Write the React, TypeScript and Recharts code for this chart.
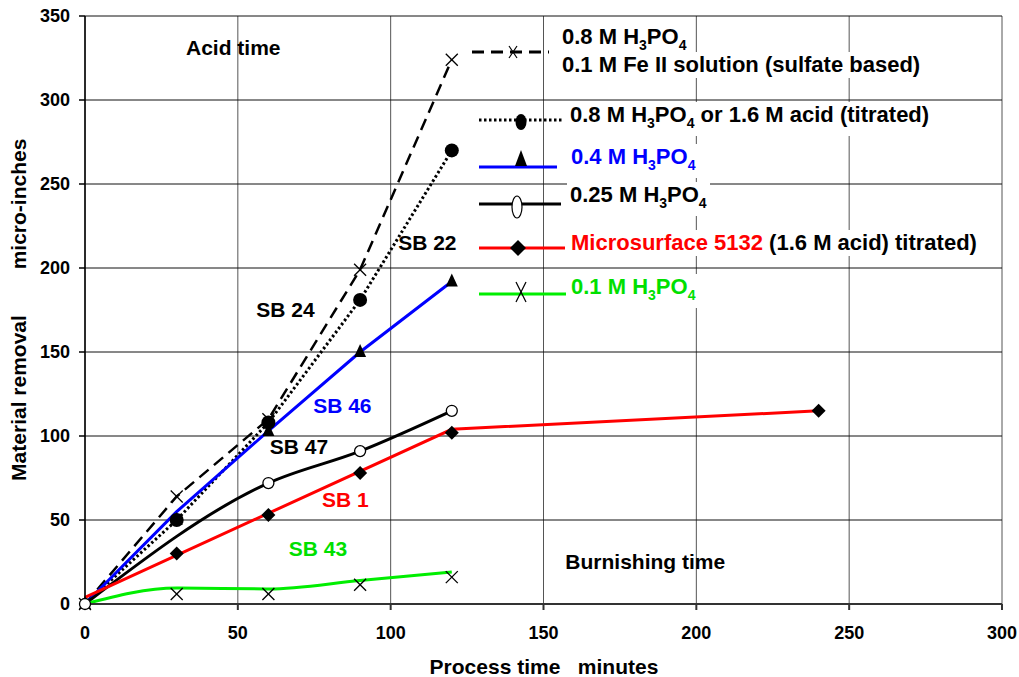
import React from "react";
import {
  ComposedChart,
  Line,
  Scatter,
  XAxis,
  YAxis,
  CartesianGrid,
  ReferenceDot,
} from "recharts";

const FONT = '"Liberation Sans", Arial, Helvetica, sans-serif';

// process time, minutes
const minutes = [0, 30, 60, 90, 120];
const xTicks = [0, 50, 100, 150, 200, 250, 300];
const yTicks = [0, 50, 100, 150, 200, 250, 300, 350];

// 0.8 M H3PO4 + 0.1 M Fe II (dashed, x markers)
const feSolution = [0, 64, 110, 199, 324];
// 0.8 M H3PO4 or 1.6 M acid titrated (dotted, filled circles)
const acid08 = [0, 50, 108, 181, 270];
// 0.4 M H3PO4 (blue, triangles)
const acid04Line = [0, 55, 103, 150, 192];
const acid04Marks = [0, 50, 103, 150, 192];
// 0.25 M H3PO4 (black, open circles)
const acid025Minutes = [0, 60, 90, 120];
const acid025 = [0, 72, 91, 115];
// Microsurface 5132 (red line, black diamonds)
const microLineMinutes = [0, 120, 240];
const microLine = [4, 104, 115];
const microMarkMinutes = [30, 60, 90, 120, 240];
const microMarks = [30, 53, 78, 102, 115];
// 0.1 M H3PO4 (green line, x markers)
const acid01Line = [0, 9.5, 9, 14, 19];
const acid01MarkMinutes = [30, 60, 90, 120];
const acid01Marks = [6, 6, 11.5, 16];

const zip = (xs: number[], ys: number[]) => xs.map((x, i) => ({ x, y: ys[i] }));

const crossShape = (p: any) => (
  <g stroke="#000" strokeWidth={1.3}>
    <line x1={p.cx - 6} y1={p.cy - 6} x2={p.cx + 6} y2={p.cy + 6} />
    <line x1={p.cx - 6} y1={p.cy + 6} x2={p.cx + 6} y2={p.cy - 6} />
  </g>
);
const dotShape = (p: any) => <circle cx={p.cx} cy={p.cy} r={7} fill="#000" />;
const triShape = (p: any) => (
  <polygon
    points={`${p.cx},${p.cy - 8} ${p.cx - 6},${p.cy + 5} ${p.cx + 6},${p.cy + 5}`}
    fill="#000"
  />
);
const ringShape = (p: any) => (
  <circle cx={p.cx} cy={p.cy} r={5.5} fill="#fff" stroke="#000" strokeWidth={1.3} />
);
const diamondShape = (p: any) => (
  <polygon
    points={`${p.cx},${p.cy - 7} ${p.cx + 7},${p.cy} ${p.cx},${p.cy + 7} ${p.cx - 7},${p.cy}`}
    fill="#000"
  />
);

const textStyle = { fontFamily: FONT, fontWeight: 700, fontSize: 21 };

const note = (value: string, fill = "#000") => ({
  value,
  position: "center" as const,
  fill,
  style: textStyle,
});

const Sub = ({ children }: { children: React.ReactNode }) => (
  <span style={{ fontSize: 14, verticalAlign: -6 }}>{children}</span>
);
const H3PO4 = () => (
  <>
    H<Sub>3</Sub>PO<Sub>4</Sub>
  </>
);

const legendRow = (top: number, left: number, content: React.ReactNode, color = "#000") => (
  <div
    style={{
      position: "absolute",
      top: top - 13,
      left,
      fontFamily: FONT,
      fontWeight: 700,
      fontSize: 22,
      lineHeight: "26px",
      color,
      background: "#fff",
      padding: "0 3px",
      whiteSpace: "pre",
    }}
  >
    {content}
  </div>
);

export default function App() {
  return (
    <div
      style={{
        position: "absolute",
        left: 0,
        top: 0,
        width: 1019,
        height: 677,
        background: "#fff",
      }}
    >
      <ComposedChart
        width={1019}
        height={677}
        margin={{ top: 16, right: 17, bottom: 33, left: 25 }}
      >
        <CartesianGrid horizontal={false} stroke="#555" strokeWidth={1} />
        <CartesianGrid vertical={false} stroke="#111" strokeWidth={1} />
        <XAxis
          type="number"
          dataKey="x"
          domain={[0, 300]}
          ticks={xTicks}
          height={40}
          tickSize={6}
          tickMargin={16}
          stroke="#333"
          strokeWidth={2}
          tick={{ fill: "#000", fontFamily: FONT, fontWeight: 700, fontSize: 18 }}
        />
        <YAxis
          type="number"
          dataKey="y"
          domain={[0, 350]}
          ticks={yTicks}
          width={60}
          tickSize={6}
          tickMargin={9}
          stroke="#000"
          strokeWidth={1.5}
          tick={{ fill: "#000", fontFamily: FONT, fontWeight: 700, fontSize: 18 }}
        />

        <Line
          data={zip(minutes, feSolution)}
          dataKey="y"
          stroke="#000"
          strokeWidth={2.5}
          strokeDasharray="12 7"
          dot={false}
          isAnimationActive={false}
        />
        <Line
          data={zip(minutes, acid08)}
          dataKey="y"
          stroke="#000"
          strokeWidth={3}
          strokeDasharray="2.5 2.5"
          dot={false}
          isAnimationActive={false}
        />
        <Line
          data={zip(minutes, acid04Line)}
          dataKey="y"
          stroke="#0000ff"
          strokeWidth={3}
          dot={false}
          isAnimationActive={false}
        />
        <Line
          data={zip(acid025Minutes, acid025)}
          dataKey="y"
          type="monotone"
          stroke="#000"
          strokeWidth={3}
          dot={false}
          isAnimationActive={false}
        />
        <Line
          data={zip(microLineMinutes, microLine)}
          dataKey="y"
          stroke="#ff0000"
          strokeWidth={3}
          dot={false}
          isAnimationActive={false}
        />
        <Line
          data={zip(minutes, acid01Line)}
          dataKey="y"
          type="monotone"
          stroke="#00ee00"
          strokeWidth={3}
          dot={false}
          isAnimationActive={false}
        />

        <Scatter data={zip(minutes, acid04Marks)} dataKey="y" shape={triShape} isAnimationActive={false} />
        <Scatter data={zip(minutes, feSolution)} dataKey="y" shape={crossShape} isAnimationActive={false} />
        <Scatter data={zip(minutes.slice(1), acid08.slice(1))} dataKey="y" shape={dotShape} isAnimationActive={false} />
        <Scatter data={zip(acid025Minutes, acid025)} dataKey="y" shape={ringShape} isAnimationActive={false} />
        <Scatter data={zip(microMarkMinutes, microMarks)} dataKey="y" shape={diamondShape} isAnimationActive={false} />
        <Scatter data={zip(acid01MarkMinutes, acid01Marks)} dataKey="y" shape={crossShape} isAnimationActive={false} />

        <ReferenceDot x={48.5} y={331} r={1} fill="none" stroke="none" ifOverflow="visible" label={note("Acid time")} />
        <ReferenceDot x={183.3} y={25} r={1} fill="none" stroke="none" ifOverflow="visible" label={note("Burnishing time")} />
        <ReferenceDot x={112} y={215} r={1} fill="none" stroke="none" ifOverflow="visible" label={note("SB 22")} />
        <ReferenceDot x={65.6} y={175.5} r={1} fill="none" stroke="none" ifOverflow="visible" label={note("SB 24")} />
        <ReferenceDot x={84.2} y={118} r={1} fill="none" stroke="none" ifOverflow="visible" label={note("SB 46", "#0000ff")} />
        <ReferenceDot x={70} y={94} r={1} fill="none" stroke="none" ifOverflow="visible" label={note("SB 47")} />
        <ReferenceDot x={85.2} y={62} r={1} fill="none" stroke="none" ifOverflow="visible" label={note("SB 1", "#ff0000")} />
        <ReferenceDot x={76.2} y={33} r={1} fill="none" stroke="none" ifOverflow="visible" label={note("SB 43", "#00e000")} />
      </ComposedChart>

      {/* axis titles and legend samples */}
      <svg
        width={1019}
        height={677}
        style={{ position: "absolute", left: 0, top: 0, pointerEvents: "none" }}
      >
        <text x={544} y={666} textAnchor="middle" dominantBaseline="central" style={{ ...textStyle, whiteSpace: "pre" }}>
          {"Process time   minutes"}
        </text>
        <text x={18} y={398} textAnchor="middle" dominantBaseline="central" transform="rotate(-90 18 398)" style={textStyle}>
          Material removal
        </text>
        <text x={18} y={204} textAnchor="middle" dominantBaseline="central" transform="rotate(-90 18 204)" style={textStyle}>
          micro-inches
        </text>

        <line x1={472} y1={52} x2={549} y2={52} stroke="#000" strokeWidth={3} strokeDasharray="12 7" />
        <g stroke="#000" strokeWidth={1.2}>
          <line x1={509} y1={46} x2={517} y2={58} />
          <line x1={509} y1={58} x2={517} y2={46} />
        </g>

        <line x1={479} y1={120} x2={563} y2={120} stroke="#000" strokeWidth={3} strokeDasharray="2.5 2.5" />
        <ellipse cx={521} cy={122} rx={5.5} ry={8} fill="#000" />

        <line x1={479} y1={167} x2={557} y2={167} stroke="#0000ff" strokeWidth={3} />
        <polygon points="521,150 515,166 527,166" fill="#000" />

        <line x1={479} y1={204} x2={561} y2={204} stroke="#000" strokeWidth={3} />
        <ellipse cx={517} cy={207} rx={5} ry={11} fill="#fff" stroke="#000" strokeWidth={1.2} />

        <line x1={479} y1={248} x2={565} y2={248} stroke="#ff0000" strokeWidth={3} />
        <polygon points="518,240 526,248 518,256 510,248" fill="#000" />

        <line x1={479} y1={294} x2={566} y2={294} stroke="#00ee00" strokeWidth={3} />
        <g stroke="#000" strokeWidth={1.2}>
          <line x1={516} y1={282} x2={526} y2={302} />
          <line x1={516} y1={302} x2={526} y2={282} />
        </g>
      </svg>

      {legendRow(37, 559, <H3PO4Line prefix="0.8 M " />)}
      {legendRow(65, 559, "0.1 M Fe II solution (sulfate based)")}
      {legendRow(115, 567, <>0.8 M <H3PO4 /> or 1.6 M acid (titrated)</>)}
      {legendRow(157, 568, <H3PO4Line prefix="0.4 M " />, "#0000ff")}
      {legendRow(195, 567, <H3PO4Line prefix="0.25 M " />)}
      {legendRow(
        243,
        568,
        <>
          <span style={{ color: "#ff0000" }}>Microsurface 5132</span> (1.6 M acid) titrated)
        </>
      )}
      {legendRow(287, 568, <H3PO4Line prefix="0.1 M " />, "#00e000")}
    </div>
  );
}

function H3PO4Line({ prefix }: { prefix: string }) {
  return (
    <>
      {prefix}
      <H3PO4 />
    </>
  );
}
